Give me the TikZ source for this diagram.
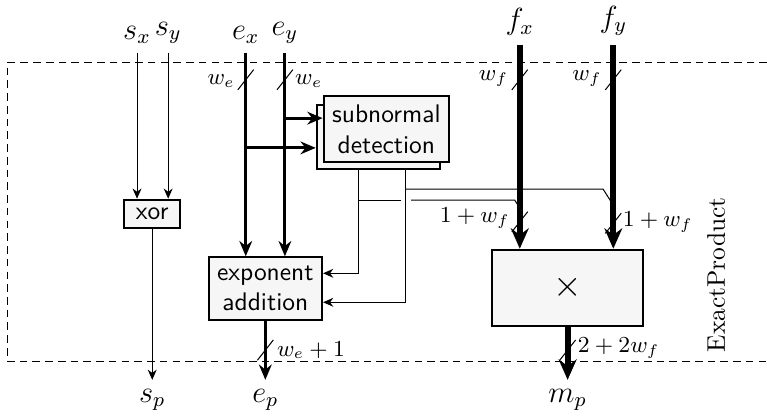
\documentclass[tikz,border=0pt]{standalone}
\usetikzlibrary{arrows.meta,positioning}

\begin{document}
\begin{tikzpicture}[
    block/.style={draw, thick, fill=gray!7, font=\sffamily, align=center},
    port/.style={font=\large},
    sig/.style={thin, -{Stealth[length=4pt,width=3.5pt]}},
    ebus/.style={line width=1.2pt, -{Stealth[length=6pt,width=5pt]}},
    fbus/.style={line width=2.4pt, -{Stealth[length=8pt,width=7pt]}},
    wlabel/.style={font=\small, inner sep=1pt},
    busmark/.pic={\draw[thin] (-0.11,-0.14) -- (0.11,0.14);},
  ]
  \useasboundingbox (0,0) rectangle (10.58,5.78);

  % operator frame, open on the right
  \draw[thin, dash pattern=on 3pt off 2pt] (10.58,4.92) -- (0.11,4.92) -- (0.11,0.79) -- (10.58,0.79);
  \node[rotate=90] (opname) at (9.88,1.99) {ExactProduct};

  % inputs and outputs
  \node[port, above] (sx) at (1.89,5.05) {$s_x$};
  \node[port, above] (sy) at (2.32,5.05) {$s_y$};
  \node[port, above] (ex) at (3.39,5.05) {$e_x$};
  \node[port, above] (ey) at (3.93,5.05) {$e_y$};
  \node[port, above] (fx) at (7.17,5.16) {$f_x$};
  \node[port, above] (fy) at (8.46,5.16) {$f_y$};

  \node[port, below] (sp) at (2.10,0.54) {$s_p$};
  \node[port, below] (ep) at (3.66,0.54) {$e_p$};
  \node[port, below] (mp) at (7.83,0.54) {$m_p$};

  % blocks
  \node[block, minimum width=0.77cm, minimum height=0.39cm, inner sep=1pt] (xor) at (2.10,2.83) {xor};
  \node[block, minimum width=1.70cm, minimum height=0.88cm] (subback) at (5.22,3.89) {};
  \node[block, minimum width=1.70cm, minimum height=0.88cm] (subnorm) at (5.33,4.00) {subnormal\\detection};
  \node[block, minimum width=1.56cm, minimum height=0.84cm] (expadd) at (3.66,1.80) {exponent\\addition};
  \node[block, minimum width=2.08cm, minimum height=1.05cm, font=\Large] (mult) at (7.83,1.81) {$\times$};

  % signs
  \draw[sig] (sx) -- (sx |- xor.north);
  \draw[sig] (sy) -- (sy |- xor.north);
  \draw[sig] (xor) -- (sp);

  % subnormal flags
  \draw[sig] (subback.south -| 4.95,0) -- (4.95,2.01) -- (expadd.east |- 0,2.01);
  \draw[sig] (subback.south -| 5.60,0) -- (5.60,1.61) -- (expadd.east |- 0,1.61);
  \draw[thin] (4.95,3.02) -- (5.53,3.02);
  \draw[thin] (5.67,3.02) -- (7.10,3.02) -- (fx |- 0,2.91);
  \draw[thin] (5.60,3.17) -- (8.32,3.17) -- (fy |- 0,2.95);

  % exponents
  \draw[ebus] (ex) -- (ex |- expadd.north);
  \draw[ebus] (ey) -- (ey |- expadd.north);
  \draw[ebus] (ey |- 0,4.15) -- (subnorm.west |- 0,4.15);
  \draw[ebus] (ex |- 0,3.74) -- (subback.west |- 0,3.74);
  \draw[ebus] (expadd) -- (ep);

  % fractions
  \draw[fbus] (fx) -- (fx |- mult.north);
  \draw[fbus] (fy) -- (fy |- mult.north);
  \draw[fbus] (mult) -- (mp);

  % bus widths
  \pic at (3.39,4.68) {busmark};
  \pic at (3.93,4.68) {busmark};
  \pic at (7.17,4.68) {busmark};
  \pic at (8.46,4.68) {busmark};
  \pic at (7.17,2.72) {busmark};
  \pic at (8.46,2.70) {busmark};
  \pic at (3.66,0.95) {busmark};
  \pic at (7.83,0.95) {busmark};
  \node[wlabel, left] (wex) at (3.28,4.66) {$w_e$};
  \node[wlabel, right] (wey) at (4.03,4.66) {$w_e$};
  \node[wlabel, left] (wfx) at (7.05,4.70) {$w_f$};
  \node[wlabel, left] (wfy) at (8.34,4.70) {$w_f$};
  \node[wlabel, left] (mfx) at (7.07,2.77) {$1+w_f$};
  \node[wlabel, right] (mfy) at (8.55,2.72) {$1+w_f$};
  \node[wlabel, right] (wep) at (3.78,0.95) {$w_e+1$};
  \node[wlabel, right] (wmp) at (7.93,0.98) {$2+2w_f$};
\end{tikzpicture}
\end{document}
